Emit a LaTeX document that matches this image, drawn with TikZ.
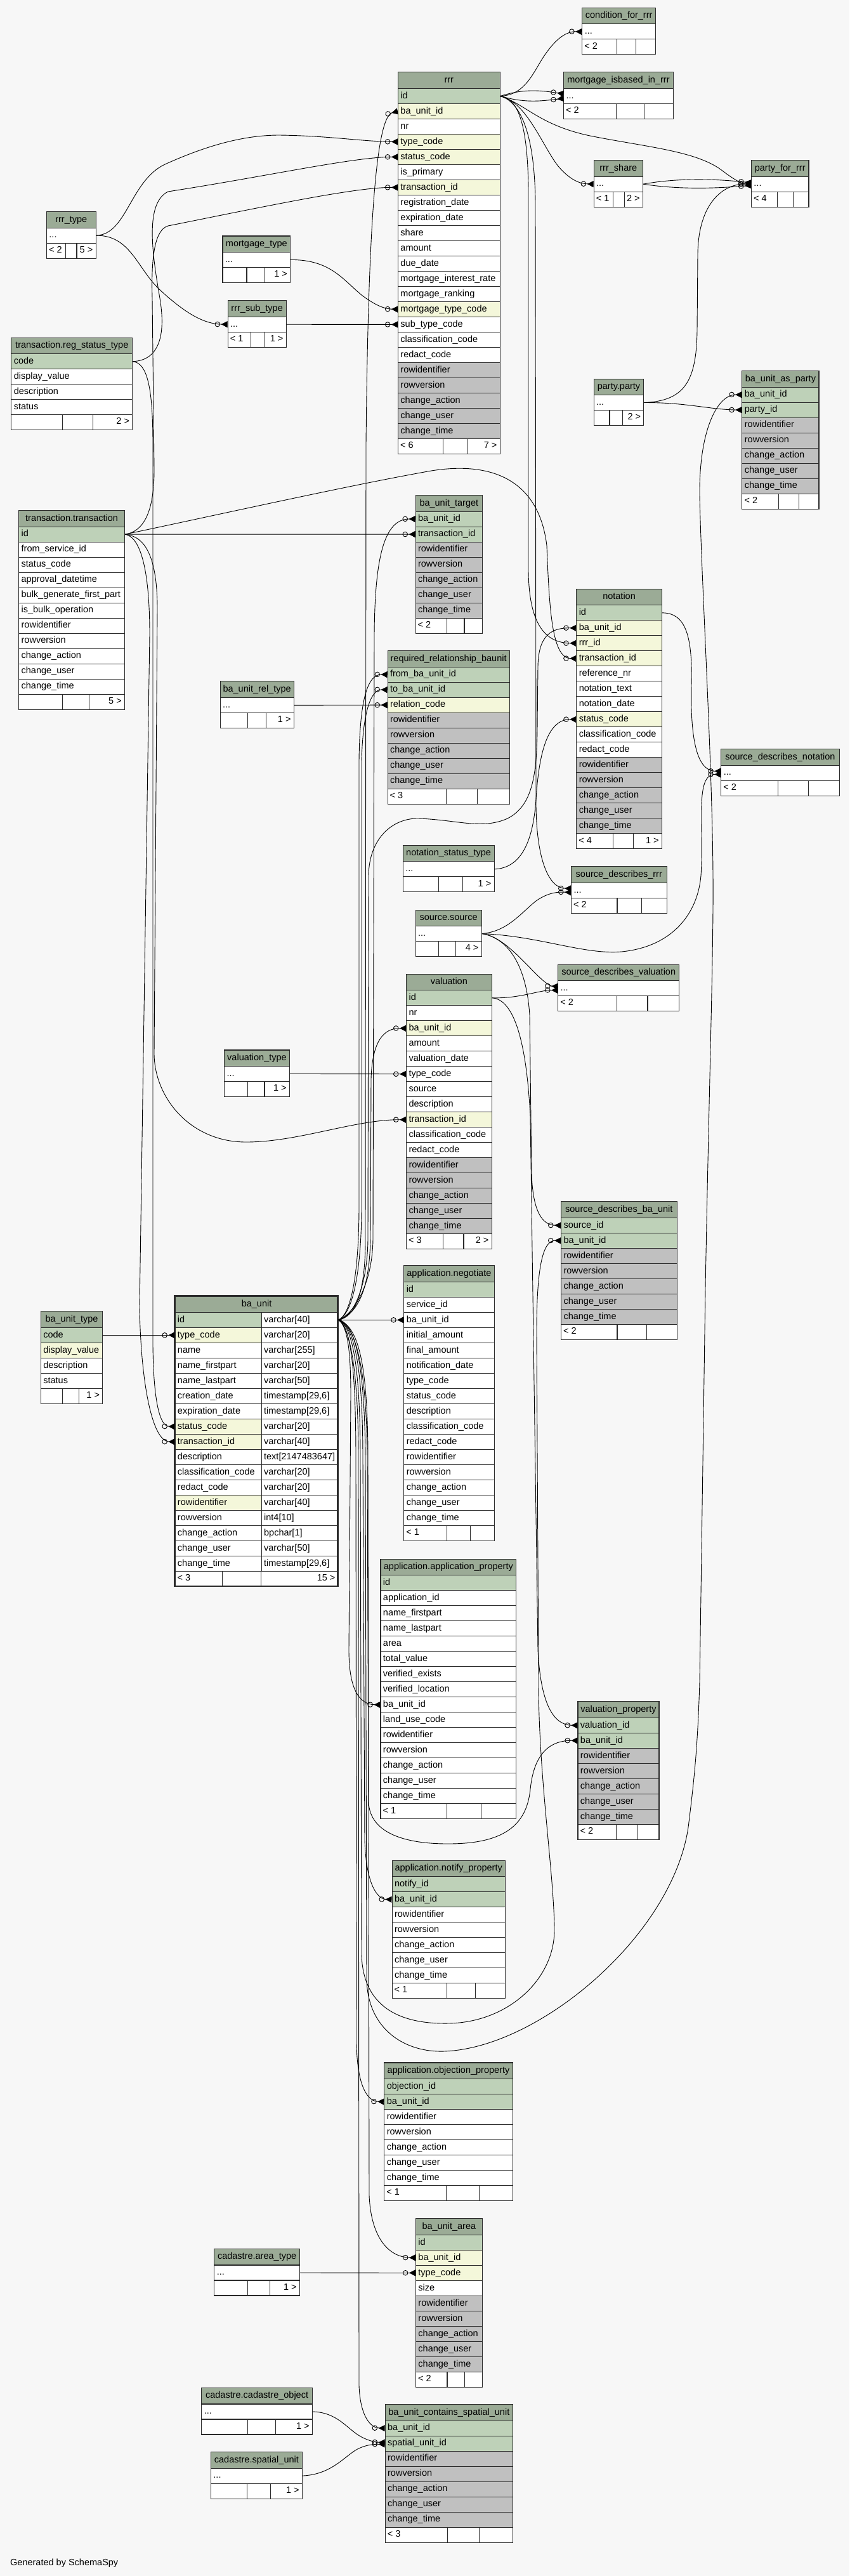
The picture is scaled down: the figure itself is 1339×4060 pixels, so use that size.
\documentclass[tikz,border=0pt]{standalone}
\usepackage{fontspec}
\setmainfont{Liberation Sans}
\usepackage{tikz}
\usetikzlibrary{arrows.meta}
\definecolor{bgcol}{HTML}{F7F7F7}
\definecolor{headcol}{HTML}{9BAB96}
\definecolor{linecol}{HTML}{2B2B2B}
\definecolor{dbk}{HTML}{BED1B8}
\definecolor{dbf}{HTML}{F4F7DA}
\definecolor{dbw}{HTML}{FFFFFF}
\definecolor{dbg}{HTML}{C0C0C0}
\newcommand{\dbfont}{\fontsize{14.5}{17}\selectfont}
\newcommand{\dbdots}{...}
\newcommand{\tsz}{timestamp[29,6]}
\tikzstyle{tblhead} = [draw=linecol, fill=headcol, line width=1.1pt, minimum height=25.5pt, inner sep=0pt, anchor=north west, align=center, font=\dbfont, text height=10.5pt, text depth=3pt]
\tikzstyle{tblrow} = [draw=linecol, line width=1.1pt, minimum height=24pt, inner xsep=4pt, inner ysep=0pt, anchor=north west, align=left, font=\dbfont, text height=10.5pt, text depth=3pt]
\tikzstyle{tblline} = [draw=linecol, line width=1.1pt]
\tikzstyle{dbtext} = [inner sep=0pt, font=\dbfont, text height=10.5pt, text depth=3pt]
\tikzstyle{fkline} = [draw=black, line width=0.9pt, -{Circle[open,length=8.5pt,sep=1.5pt] Triangle[reversed,length=10pt,width=10pt]}]
% table: name, x left, x right, y top, title, rows (text/colour)
\newcommand{\dbtable}[6]{%
  \pgfmathsetmacro\dbwd{#3-#2}%
  \pgfmathsetmacro\dbtw{#3-#2-8}%
  \node[tblhead, minimum width=\dbwd pt] (#1) at (#2,#4) {#5};%
  \foreach \txt/\clr [count=\i] in {#6} {%
    \pgfmathsetmacro\dby{#4+25.5+(\i-1)*24}%
    \node[tblrow, fill=db\clr, text width=\dbtw pt] (#1-\i) at (#2,\dby) {\txt};%
    \xdef\dbn{\i}%
  }%
  \pgfmathsetmacro\dbfy{#4+25.5+\dbn*24}%
  \xdef\dbY{\dbfy}\xdef\dbL{#2}\xdef\dbR{#3}%
}
% footer: name, divider 1, divider 2, left text, right text
\newcommand{\dbfoot}[5]{%
  \pgfmathsetmacro\dbwd{\dbR-\dbL}%
  \node[tblrow, fill=white, minimum width=\dbwd pt] (#1-foot) at (\dbL,\dbY) {};%
  \draw[tblline] (#2,\dbY) -- ++(0,24) (#3,\dbY) -- ++(0,24);%
  \node[dbtext, anchor=west] at (\dbL+4,\dbY+12) {#4};%
  \node[dbtext, anchor=east] at (\dbR-4,\dbY+12) {#5};%
}

\begin{document}
\begin{tikzpicture}[x=1pt,y=-1pt]
\fill[bgcol] (0,0) rectangle (1339,4060);
\useasboundingbox (0,0) rectangle (1339,4060);
%-----------------------------------------------
\dbtable{cond}{917.2}{1033.1}{11.9}{condition\_for\_rrr}{\dbdots/w}
\dbfoot{cond}{972.8}{1002.5}{< 2}{}
\dbtable{mib}{888.0}{1060.9}{113.4}{mortgage\_isbased\_in\_rrr}{\dbdots/w}
\dbfoot{mib}{971.4}{1015.7}{< 2}{}
\dbtable{rrr}{626.9}{787.6}{113.4}{rrr}{id/k, ba\_unit\_id/f, nr/w, type\_code/f, status\_code/f, is\_primary/w, transaction\_id/f, registration\_date/w, expiration\_date/w, share/w, amount/w, due\_date/w, mortgage\_interest\_rate/w, mortgage\_ranking/w, mortgage\_type\_code/f, sub\_type\_code/w, classification\_code/w, redact\_code/w, rowidentifier/g, rowversion/g, change\_action/g, change\_user/g, change\_time/g}
\dbfoot{rrr}{698.5}{737.1}{< 6}{7 >}
\dbtable{share}{935.6}{1012.9}{252.1}{rrr\_share}{\dbdots/w}
\dbfoot{share}{966.7}{984.1}{< 1}{2 >}
\dbtable{pfr}{1183.9}{1274.4}{252.1}{party\_for\_rrr}{\dbdots/w}
\dbfoot{pfr}{1225.9}{1250.4}{< 4}{}
\dbtable{rtype}{72.9}{150.5}{333.0}{rrr\_type}{\dbdots/w}
\dbfoot{rtype}{103.6}{121.0}{< 2}{5 >}
\dbtable{mtype}{350.4}{457.1}{371.4}{mortgage\_type}{\dbdots/w}
\dbfoot{mtype}{389.0}{417.2}{}{1 >}
\dbtable{subtype}{358.6}{450.6}{473.2}{rrr\_sub\_type}{\dbdots/w}
\dbfoot{subtype}{395.5}{417.2}{< 1}{1 >}
\dbtable{regst}{17.3}{208.2}{531.7}{transaction.reg\_status\_type}{code/k, display\_value/w, description/w, status/w}
\dbfoot{regst}{98.9}{146.6}{}{2 >}
\dbtable{party}{935.6}{1014.3}{596.5}{party.party}{\dbdots/w}
\dbfoot{party}{961.0}{981.3}{}{2 >}
\dbtable{buparty}{1169.3}{1290.4}{584.1}{ba\_unit\_as\_party}{ba\_unit\_id/k, party\_id/k, rowidentifier/g, rowversion/g, change\_action/g, change\_user/g, change\_time/g}
\dbfoot{buparty}{1227.7}{1259.1}{< 2}{}
\dbtable{trans}{29.1}{196.0}{804.1}{transaction.transaction}{id/k, from\_service\_id/w, status\_code/w, approval\_datetime/w, bulk\_generate\_first\_part/w, is\_bulk\_operation/w, rowidentifier/w, rowversion/w, change\_action/w, change\_user/w, change\_time/w}
\dbfoot{trans}{98.9}{140.9}{}{5 >}
\dbtable{target}{654.5}{760.1}{780.0}{ba\_unit\_target}{ba\_unit\_id/k, transaction\_id/k, rowidentifier/g, rowversion/g, change\_action/g, change\_user/g, change\_time/g}
\dbfoot{target}{704.9}{732.0}{< 2}{}
\dbtable{reqrel}{610.5}{802.7}{1025.1}{required\_relationship\_baunit}{from\_ba\_unit\_id/k, to\_ba\_unit\_id/k, relation\_code/f, rowidentifier/g, rowversion/g, change\_action/g, change\_user/g, change\_time/g}
\dbfoot{reqrel}{703.9}{752.8}{< 3}{}
\dbtable{reltype}{346.5}{462.7}{1073.3}{ba\_unit\_rel\_type}{\dbdots/w}
\dbfoot{reltype}{390.7}{419.8}{}{1 >}
\dbtable{notation}{908.2}{1042.8}{927.8}{notation}{id/k, ba\_unit\_id/f, rrr\_id/f, transaction\_id/f, reference\_nr/w, notation\_text/w, notation\_date/w, status\_code/f, classification\_code/w, redact\_code/w, rowidentifier/g, rowversion/g, change\_action/g, change\_user/g, change\_time/g}
\dbfoot{notation}{966.3}{998.7}{< 4}{1 >}
\dbtable{sdn}{1136.2}{1322.5}{1180.0}{source\_describes\_notation}{\dbdots/w}
\dbfoot{sdn}{1226.7}{1274.6}{< 2}{}
\dbtable{nstype}{634.7}{778.5}{1331.8}{notation\_status\_type}{\dbdots/w}
\dbfoot{nstype}{691.8}{729.6}{}{1 >}
\dbtable{sdr}{900.0}{1050.5}{1365.3}{source\_describes\_rrr}{\dbdots/w}
\dbfoot{sdr}{973.0}{1011.3}{< 2}{}
\dbtable{source}{654.5}{758.6}{1433.5}{source.source}{\dbdots/w}
\dbfoot{source}{691.8}{718.9}{}{4 >}
\dbtable{sdv}{879.1}{1070.3}{1519.7}{source\_describes\_valuation}{\dbdots/w}
\dbfoot{sdv}{972.1}{1021.0}{< 2}{}
\dbtable{valuation}{640.0}{774.6}{1534.7}{valuation}{id/k, nr/w, ba\_unit\_id/f, amount/w, valuation\_date/w, type\_code/w, source/w, description/w, transaction\_id/f, classification\_code/w, redact\_code/w, rowidentifier/g, rowversion/g, change\_action/g, change\_user/g, change\_time/g}
\dbfoot{valuation}{698.6}{731.0}{< 3}{2 >}
\dbtable{vtype}{353.1}{455.8}{1654.4}{valuation\_type}{\dbdots/w}
\dbfoot{vtype}{390.6}{417.0}{}{1 >}
\dbtable{sdba}{884.0}{1066.5}{1893.3}{source\_describes\_ba\_unit}{source\_id/k, ba\_unit\_id/k, rowidentifier/g, rowversion/g, change\_action/g, change\_user/g, change\_time/g}
\dbfoot{sdba}{973.0}{1019.5}{< 2}{}
\dbtable{negot}{636.2}{778.5}{1994.3}{application.negotiate}{id/k, service\_id/w, ba\_unit\_id/w, initial\_amount/w, final\_amount/w, notification\_date/w, type\_code/w, status\_code/w, description/w, classification\_code/w, redact\_code/w, rowidentifier/w, rowversion/w, change\_action/w, change\_user/w, change\_time/w}
\dbfoot{negot}{704.9}{741.7}{< 1}{}
\dbtable{butype}{63.8}{161.2}{2066.3}{ba\_unit\_type}{code/k, display\_value/f, description/w, status/w}
\dbfoot{butype}{98.7}{124.1}{}{1 >}
\dbtable{appprop}{599.4}{813.3}{2456.8}{application.application\_property}{id/k, application\_id/w, name\_firstpart/w, name\_lastpart/w, area/w, total\_value/w, verified\_exists/w, verified\_location/w, ba\_unit\_id/w, land\_use\_code/w, rowidentifier/w, rowversion/w, change\_action/w, change\_user/w, change\_time/w}
\dbfoot{appprop}{704.3}{758.7}{< 1}{}
\dbtable{valprop}{910.4}{1038.4}{2681.3}{valuation\_property}{valuation\_id/k, ba\_unit\_id/k, rowidentifier/g, rowversion/g, change\_action/g, change\_user/g, change\_time/g}
\dbfoot{valprop}{971.8}{1005.1}{< 2}{}
\dbtable{notify}{617.5}{795.8}{2931.7}{application.notify\_property}{notify\_id/k, ba\_unit\_id/k, rowidentifier/w, rowversion/w, change\_action/w, change\_user/w, change\_time/w}
\dbfoot{notify}{704.3}{749.1}{< 1}{}
\dbtable{objection}{605.2}{807.8}{3250.4}{application.objection\_property}{objection\_id/k, ba\_unit\_id/k, rowidentifier/w, rowversion/w, change\_action/w, change\_user/w, change\_time/w}
\dbfoot{objection}{703.8}{755.9}{< 1}{}
\dbtable{area}{654.9}{759.7}{3496.2}{ba\_unit\_area}{id/k, ba\_unit\_id/f, type\_code/f, size/w, rowidentifier/g, rowversion/g, change\_action/g, change\_user/g, change\_time/g}
\dbfoot{area}{705.0}{732.2}{< 2}{}
\dbtable{atype}{337.2}{471.9}{3543.9}{cadastre.area\_type}{\dbdots/w}
\dbfoot{atype}{390.8}{425.3}{}{1 >}
\dbtable{cobj}{317.3}{491.8}{3762.9}{cadastre.cadastre\_object}{\dbdots/w}
\dbfoot{cobj}{390.8}{434.8}{}{1 >}
\dbtable{spunit}{331.9}{475.8}{3864.0}{cadastre.spatial\_unit}{\dbdots/w}
\dbfoot{spunit}{389.3}{426.8}{}{1 >}
\dbtable{bcsu}{606.6}{807.9}{3789.0}{ba\_unit\_contains\_spatial\_unit}{ba\_unit\_id/k, spatial\_unit\_id/k, rowidentifier/g, rowversion/g, change\_action/g, change\_user/g, change\_time/g}
\dbfoot{bcsu}{705.4}{755.9}{< 3}{}
%-----------------------------------------------
% ba_unit, the table in focus
\node[tblhead, minimum width=257.2pt] (baunit) at (275.4,2042.3) {ba\_unit};
\foreach \txt/\typ/\clr [count=\i] in {id/varchar[40]/k, type\_code/varchar[20]/f, name/varchar[255]/w, name\_firstpart/varchar[20]/w, name\_lastpart/varchar[50]/w, creation\_date/\tsz/w, expiration\_date/\tsz/w, status\_code/varchar[20]/f, transaction\_id/varchar[40]/f, description/text[2147483647]/w, classification\_code/varchar[20]/w, redact\_code/varchar[20]/w, rowidentifier/varchar[40]/f, rowversion/int4[10]/w, change\_action/bpchar[1]/w, change\_user/varchar[50]/w, change\_time/\tsz/w} {
  \pgfmathsetmacro\dby{2042.3+25.5+(\i-1)*24}
  \node[tblrow, fill=db\clr, text width=128.2pt] (baunit-\i) at (275.4,\dby) {\txt};
  \node[tblrow, fill=white, text width=113pt] (batype-\i) at (411.6,\dby) {\typ};
}
\node[tblrow, fill=white, minimum width=257.2pt] (baunit-foot) at (275.4,2475.8) {};
\draw[tblline] (350.4,2475.8) -- ++(0,24) (411.6,2475.8) -- ++(0,24);
\node[dbtext, anchor=west] at (279.4,2487.8) {< 3};
\node[dbtext, anchor=east] at (528.6,2487.8) {15 >};
\draw[linecol, line width=2.4pt] (275.4,2042.3) rectangle (532.6,2499.8);
%-----------------------------------------------
\node[dbtext, anchor=west] (credit) at (16,4040) {Generated by SchemaSpy};
%-----------------------------------------------
% lookups into rrr
\draw[fkline] (rtype-1.east) .. controls (200,370) and (205,285) .. (260,259) .. controls (320,232) and (380,213) .. (440,213) .. controls (520,214) and (570,223) .. (rrr-4.west);
\draw[fkline] (rtype-1.east) .. controls (205,371) and (215,420) .. (250,455) .. controls (290,492) and (320,510.7) .. (subtype-1.west);
\draw[fkline] (regst-1.east) .. controls (250,568) and (262,530) .. (252,470) .. controls (240,400) and (228,320) .. (265,302) .. controls (420,278) and (560,247) .. (rrr-5.west);
\draw[fkline] (regst-1.east) .. controls (232,572) and (241,610) .. (241,700) -- (241,2120) .. controls (242,2210) and (252,2247.8) .. (baunit-8.west);
\draw[fkline] (mtype-1.east) .. controls (520,409) and (540,440) .. (570,465) .. controls (590,480) and (605,486.9) .. (rrr-15.west);
\draw[fkline] (subtype-1.east) -- (rrr-16.west);
%-----------------------------------------------
% transaction
\draw[fkline] (trans-1.east) .. controls (225,838) and (243,810) .. (243,740) -- (240,470) .. controls (238,400) and (245,362) .. (265,356) .. controls (420,325) and (560,295) .. (rrr-7.west);
\draw[fkline] (trans-1.east) -- (target-2.west);
\draw[fkline] (trans-1.east) .. controls (350,810) and (550,765) .. (680,742) .. controls (780,726) and (850,760) .. (862,860) .. controls (866,960) and (870,1037.3) .. (notation-4.west);
\draw[fkline] (trans-1.east) .. controls (230,845) and (248,880) .. (248,960) -- (243,1660) .. controls (243,1730) and (300,1800) .. (388,1800) .. controls (470,1800) and (560,1764.2) .. (valuation-9.west);
\draw[fkline] (trans-1.east) .. controls (222,846) and (236,900) .. (236,1000) -- (220,2060) .. controls (222,2180) and (240,2271.8) .. (baunit-9.west);
%-----------------------------------------------
% rrr children
\draw[fkline] (rrr-1.east) .. controls (830,150) and (842,110) .. (860,85) .. controls (876,62) and (892,49.4) .. (cond-1.west);
\draw[fkline] (rrr-1.east) .. controls (825,140) and (850,142) .. ([yshift=3.5pt]mib-1.west);
\draw[fkline] (rrr-1.east) .. controls (825,162) and (850,160) .. ([yshift=-3.5pt]mib-1.west);
\draw[fkline] (rrr-1.east) .. controls (830,160) and (855,230) .. (880,262) .. controls (900,285) and (915,289.6) .. (share-1.west);
\draw[fkline] (rrr-1.east) .. controls (830,165) and (850,197) .. (930,214) .. controls (1020,232) and (1100,238) .. (1140,270) .. controls (1160,285) and (1170,289.6) .. (pfr-1.west);
\draw[fkline] (share-1.east) .. controls (1070,280) and (1130,282) .. ([yshift=2pt]pfr-1.west);
\draw[fkline] (share-1.east) .. controls (1070,299) and (1130,297) .. ([yshift=-2pt]pfr-1.west);
\draw[fkline] (party-1.east) .. controls (1080,632) and (1098,600) .. (1099,520) -- (1100,400) .. controls (1101,320) and (1140,289.6) .. (pfr-1.west);
\draw[fkline] (party-1.east) .. controls (1080,634) and (1120,645.6) .. (buparty-2.west);
\draw[fkline] (rrr-1.east) .. controls (815,155) and (832,190) .. (833,300) -- (833,900) .. controls (834,985) and (860,1013.3) .. (notation-3.west);
\draw[fkline] (rrr-1.east) .. controls (820,160) and (843,210) .. (844,320) -- (845,1270) .. controls (846,1355) and (865,1399.8) .. ([yshift=3pt]sdr-1.west);
%-----------------------------------------------
% notation, source, valuation
\draw[fkline] (nstype-1.east) .. controls (820,1368) and (840,1330) .. (845,1260) .. controls (850,1180) and (865,1133.3) .. (notation-8.west);
\draw[fkline] (notation-1.east) .. controls (1080,966) and (1092,1000) .. (1090,1080) .. controls (1088,1170) and (1100,1215) .. ([yshift=2.5pt]sdn-1.west);
\draw[fkline] (source-1.east) .. controls (850,1475) and (920,1505) .. (980,1500) .. controls (1060,1492) and (1100,1440) .. (1105,1380) .. controls (1110,1300) and (1095,1220) .. ([yshift=-2.5pt]sdn-1.west);
\draw[fkline] (source-1.east) .. controls (800,1468) and (820,1440) .. (845,1420) .. controls (865,1406) and (880,1405.8) .. ([yshift=-3pt]sdr-1.west);
\draw[fkline] (source-1.east) .. controls (790,1475) and (820,1510) .. (845,1535) .. controls (860,1550) and (868,1554.2) .. ([yshift=3pt]sdv-1.west);
\draw[fkline] (source-1.east) .. controls (800,1478) and (830,1520) .. (835,1600) -- (838,1850) .. controls (840,1910) and (855,1930.8) .. (sdba-1.west);
\draw[fkline] (valuation-1.east) .. controls (820,1574) and (850,1560.2) .. ([yshift=-3pt]sdv-1.west);
\draw[fkline] (valuation-1.east) .. controls (810,1575) and (830,1640) .. (836,1760) -- (848,2600) .. controls (852,2680) and (870,2718.8) .. (valprop-1.west);
\draw[fkline] (vtype-1.east) -- (valuation-6.west);
\draw[fkline] (reltype-1.east) -- (reqrel-3.west);
\draw[fkline] (butype-1.east) -- (baunit-2.west);
%-----------------------------------------------
% ba_unit children
\draw[fkline] (batype-1.east) .. controls (560,2075) and (575,2040) .. (576,1960) -- (577,700) .. controls (580,400) and (590,185) .. (rrr-2.west);
\draw[fkline] (batype-1.east) .. controls (560,2070) and (588,2020) .. (588,1950) -- (590,1000) .. controls (591,880) and (605,817.5) .. (target-1.west);
\draw[fkline] (batype-1.east) .. controls (555,2070) and (566,2000) .. (566,1900) -- (566,1200) .. controls (567,1100) and (580,1062.6) .. (reqrel-1.west);
\draw[fkline] (batype-1.east) .. controls (557,2070) and (570,2000) .. (570,1900) -- (570,1200) .. controls (572,1120) and (585,1086.6) .. (reqrel-2.west);
\draw[fkline] (batype-1.east) .. controls (560,2075) and (580,2020) .. (580,1950) -- (581,1380) .. controls (582,1320) and (620,1289) .. (660,1290) .. controls (720,1292) and (760,1308) .. (800,1290) .. controls (840,1270) and (846,1220) .. (847,1150) -- (848,1050) .. controls (849,1000) and (870,989.3) .. (notation-2.west);
\draw[fkline] (batype-1.east) .. controls (565,2070) and (583,2030) .. (584,1950) -- (585,1700) .. controls (587,1640) and (605,1620.2) .. (valuation-3.west);
\draw[fkline] (batype-1.east) .. controls (555,2090) and (568,2150) .. (568,2300) -- (570,3080) .. controls (572,3170) and (640,3190) .. (706,3189) .. controls (800,3188) and (875,3120) .. (874,3040) .. controls (873,2950) and (849,2800) .. (849,2650) -- (846,2100) .. controls (846,2000) and (855,1954.8) .. (sdba-2.west);
\draw[fkline] (batype-1.east) -- (negot-3.west);
\draw[fkline] (batype-1.east) .. controls (548,2090) and (553,2130) .. (553,2200) -- (550,2600) .. controls (550,2660) and (565,2686.3) .. (appprop-9.west);
\draw[fkline] (batype-1.east) .. controls (560,2090) and (578,2150) .. (579,2300) -- (581,2840) .. controls (583,2890) and (640,2906) .. (706,2906) .. controls (790,2906) and (830,2880) .. (836,2820) .. controls (842,2760) and (870,2742.8) .. (valprop-2.west);
\draw[fkline] (batype-1.east) .. controls (558,2090) and (572,2150) .. (572,2300) -- (575,2900) .. controls (577,2970) and (595,2993.2) .. (notify-2.west);
\draw[fkline] (batype-1.east) .. controls (552,2090) and (561,2150) .. (561,2300) -- (562,3220) .. controls (563,3290) and (580,3311.9) .. (objection-2.west);
\draw[fkline] (batype-1.east) .. controls (565,2090) and (580,2150) .. (580,2300) -- (582,3460) .. controls (585,3530) and (615,3557.7) .. (area-2.west);
\draw[fkline] (batype-1.east) .. controls (550,2090) and (565,2150) .. (565,2300) -- (566,3760) .. controls (568,3810) and (585,3826.5) .. (bcsu-1.west);
\draw[fkline] (batype-1.east) .. controls (560,2085) and (575,2150) .. (576,2300) -- (578,3120) .. controls (580,3200) and (640,3235) .. (700,3233) .. controls (850,3228) and (1060,3050) .. (1085,2880) .. controls (1095,2800) and (1100,2750) .. (1103,2650) -- (1112,2030) .. controls (1118,1700) and (1125,1500) .. (1124,1380) .. controls (1123,1200) and (1105,900) .. (1103,780) .. controls (1102,680) and (1130,621.6) .. (buparty-1.west);
%-----------------------------------------------
% cadastre
\draw[fkline] (atype-1.east) -- (area-3.west);
\draw[fkline] (cobj-1.east) .. controls (530,3802) and (545,3825) .. (565,3838) .. controls (578,3846) and (590,3849) .. ([yshift=1.5pt]bcsu-2.west);
\draw[fkline] (spunit-1.east) .. controls (520,3900) and (540,3875) .. (560,3862) .. controls (575,3853) and (590,3852) .. ([yshift=-1.5pt]bcsu-2.west);
\end{tikzpicture}
\end{document}
